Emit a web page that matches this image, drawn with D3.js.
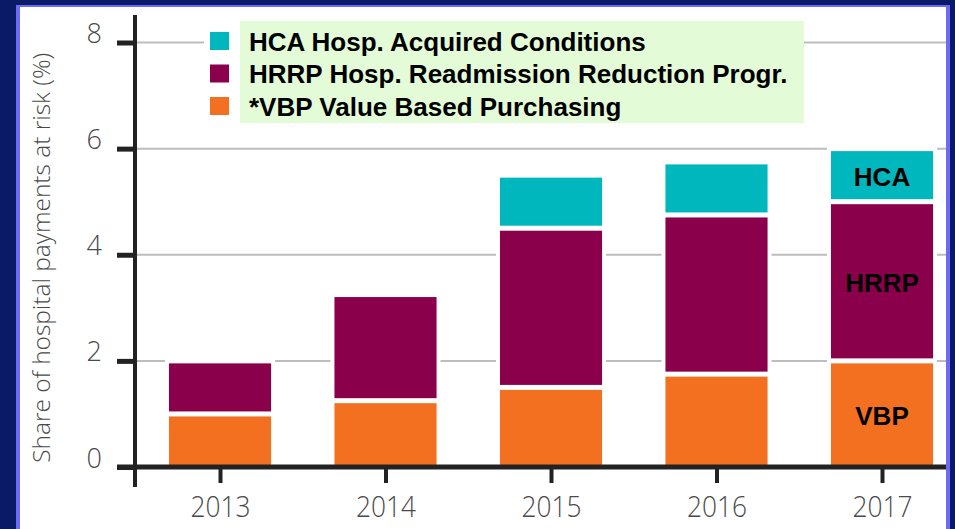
<!DOCTYPE html>
<html>
<head>
<meta charset="utf-8">
<script src="https://cdn.jsdelivr.net/npm/d3@7"></script>
<style>
  html, body { margin: 0; padding: 0; background: #0a1a66; }
  svg { display: block; }
  .tick text { fill: #4a4a4a; font-family: "Open Sans", sans-serif; font-weight: 300; }
</style>
</head>
<body>
<svg width="955" height="529"></svg>
<script>
// Share of hospital payments at risk, by programme
const years = ["2013", "2014", "2015", "2016", "2017"];
const vbp = [1.0, 1.25, 1.5, 1.75, 2.0];
const hrrp = [1.0, 2.0, 3.0, 3.0, 3.0];
const hca = [0, 0, 1.0, 1.0, 1.0];
const yTicks = [0, 2, 4, 6, 8];

const keys = ["vbp", "hrrp", "hca"];
const colors = { vbp: "#f37021", hrrp: "#8b004b", hca: "#00b7bd" };
const legendItems = [
  { key: "hca", label: "HCA Hosp. Acquired Conditions" },
  { key: "hrrp", label: "HRRP Hosp. Readmission Reduction Progr." },
  { key: "vbp", label: "*VBP Value Based Purchasing" },
];

const table = years.map((yr, i) => ({ year: yr, vbp: vbp[i], hrrp: hrrp[i], hca: hca[i] }));
const series = d3.stack().keys(keys)(table);

const svg = d3.select("svg");
const width = +svg.attr("width");
const height = +svg.attr("height");

// frame: navy edge, light blue rule, white panel
svg.append("rect").attr("x", 16).attr("y", 5).attr("width", 934).attr("height", height)
  .attr("fill", "#6b6bf7");
svg.append("rect").attr("x", 20).attr("y", 7).attr("width", 926).attr("height", height)
  .attr("fill", "#fff");

const y = d3.scaleLinear().domain([0, 8]).range([467, 42.5]);
const x = d3.scalePoint().domain(years).range([220, 882]);
const barW = x.step() * 0.617;
const axisX = 135;

// gridlines
svg.append("g")
  .selectAll("line")
  .data(yTicks.filter((d) => d > 0))
  .join("line")
  .attr("x1", axisX)
  .attr("x2", 946)
  .attr("y1", (d) => y(d))
  .attr("y2", (d) => y(d))
  .attr("stroke", "#bdbdbd")
  .attr("stroke-width", 2);

// white halo behind each stack, breaks the gridlines
svg.append("g")
  .selectAll("rect")
  .data(table)
  .join("rect")
  .attr("x", (d) => x(d.year) - barW / 2 - 4)
  .attr("width", barW + 8)
  .attr("y", (d) => y(d.vbp + d.hrrp + d.hca) - 4)
  .attr("height", (d) => y(0) - y(d.vbp + d.hrrp + d.hca) + 4)
  .attr("fill", "#fff");

// stacked bars, small white gap between segments
const gap = 2.5;
svg.append("g")
  .selectAll("g")
  .data(series)
  .join("g")
  .attr("fill", (s) => colors[s.key])
  .selectAll("rect")
  .data((s) => s.filter((d) => d[1] > d[0]).map((d) => ({ d, first: s.index === 0 })))
  .join("rect")
  .attr("x", (e) => x(e.d.data.year) - barW / 2)
  .attr("width", barW)
  .attr("y", (e) => y(e.d[1]) + gap)
  .attr("height", (e) => y(e.d[0]) - y(e.d[1]) - gap - (e.first ? 0 : gap));

// labels inside the 2017 bar
const last = table[table.length - 1];
const inBar = [
  { text: "HCA", v: last.vbp + last.hrrp + last.hca / 2 },
  { text: "HRRP", v: last.vbp + last.hrrp / 2 },
  { text: "VBP", v: last.vbp / 2 },
];
svg.append("g")
  .selectAll("text")
  .data(inBar)
  .join("text")
  .attr("x", x(last.year))
  .attr("y", (d) => y(d.v))
  .attr("dy", "0.42em")
  .attr("text-anchor", "middle")
  .attr("font-family", "Liberation Sans, Arial, sans-serif")
  .attr("font-weight", "bold")
  .attr("font-size", 26)
  .attr("fill", "#000")
  .text((d) => d.text);

// y axis
const yAxis = svg.append("g")
  .attr("transform", `translate(${axisX},0)`)
  .call(d3.axisLeft(y).tickValues(yTicks).tickSize(18).tickPadding(15));
yAxis.select(".domain").remove();
yAxis.selectAll(".tick line").attr("stroke", "#222").attr("stroke-width", 5);
yAxis.selectAll(".tick text").attr("font-size", 27).attr("dy", "0em");
svg.append("line")
  .attr("x1", axisX).attr("x2", axisX)
  .attr("y1", 15).attr("y2", 487)
  .attr("stroke", "#222").attr("stroke-width", 4);

// x axis
const xAxis = svg.append("g")
  .attr("transform", `translate(0,${y(0)})`)
  .call(d3.axisBottom(x).tickSize(16).tickPadding(12));
xAxis.select(".domain").remove();
xAxis.selectAll(".tick line").attr("stroke", "#222").attr("stroke-width", 4);
xAxis.selectAll(".tick text")
  .attr("font-size", 30)
  .attr("y", 50)
  .attr("dy", "0em")
  .attr("textLength", 60)
  .attr("lengthAdjust", "spacingAndGlyphs");
svg.append("line")
  .attr("x1", 117).attr("x2", 946)
  .attr("y1", y(0)).attr("y2", y(0))
  .attr("stroke", "#222").attr("stroke-width", 5);

// y axis title
svg.append("text")
  .attr("transform", `translate(50,${(y(0) + y(8)) / 2 + 3}) rotate(-90)`)
  .attr("text-anchor", "middle")
  .attr("font-family", "Open Sans, sans-serif")
  .attr("font-weight", 300)
  .attr("font-size", 24)
  .attr("fill", "#4a4a4a")
  .attr("textLength", 410)
  .attr("lengthAdjust", "spacingAndGlyphs")
  .text("Share of hospital payments at risk (%)");

// legend
const legend = svg.append("g");
legend.append("rect").attr("x", 204).attr("y", 21).attr("width", 36).attr("height", 102).attr("fill", "#fff");
legend.append("rect").attr("x", 240).attr("y", 21).attr("width", 564).attr("height", 102).attr("fill", "#e3fbd6");
const rows = legend.selectAll("g")
  .data(legendItems)
  .join("g")
  .attr("transform", (d, i) => `translate(0,${41 + i * 32.5})`);
rows.append("rect")
  .attr("x", 210).attr("y", -9).attr("width", 19).attr("height", 18)
  .attr("fill", (d) => colors[d.key]);
rows.append("text")
  .attr("x", 249)
  .attr("dy", "0.38em")
  .attr("font-family", "Liberation Sans, Arial, sans-serif")
  .attr("font-weight", "bold")
  .attr("font-size", 26)
  .attr("fill", "#000")
  .text((d) => d.label);
</script>
</body>
</html>
